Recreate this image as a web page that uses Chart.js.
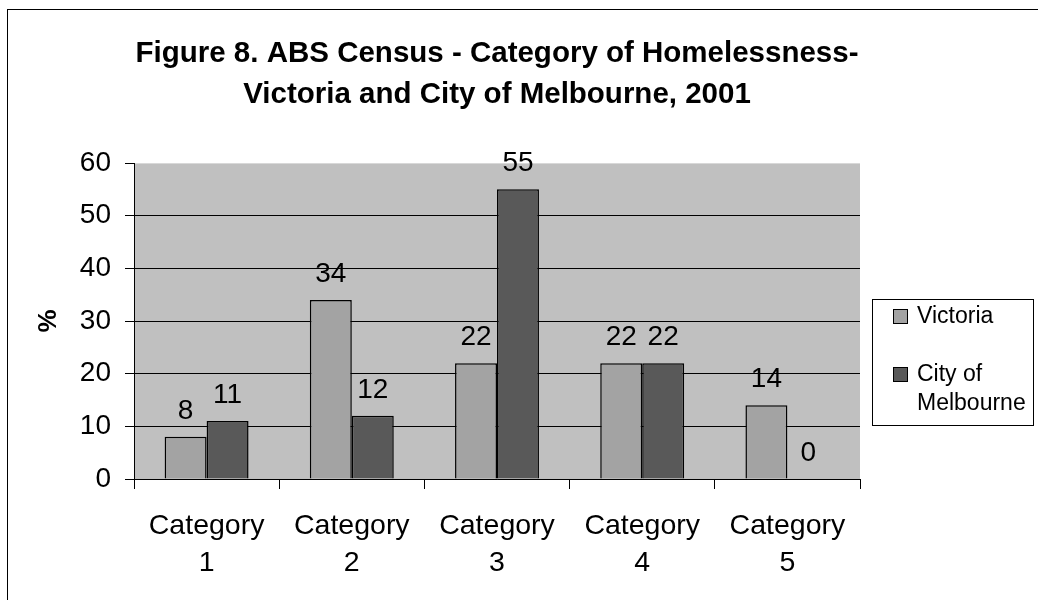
<!DOCTYPE html>
<html>
<head>
<meta charset="utf-8">
<script src="https://cdn.jsdelivr.net/npm/chart.js@4"></script>
<style>
  html, body { margin: 0; padding: 0; background: #ffffff; }
  canvas { display: block; }
</style>
</head>
<body>
<canvas id="c" width="1038" height="600"></canvas>
<script>
const categories = [['Category', '1'], ['Category', '2'], ['Category', '3'], ['Category', '4'], ['Category', '5']];
const victoria = [8, 34, 22, 22, 14];
const cityOfMelbourne = [11, 12, 55, 22, 0];
const seriesNames = ['Victoria', 'City of Melbourne'];
const legendLines = [['Victoria'], ['City of', 'Melbourne']];
const titleLines = ['Figure 8. ABS Census - Category of Homelessness-', 'Victoria and City of Melbourne, 2001'];
const yAxisTitle = '%';
const yMin = 0, yMax = 60, yStep = 10;

const FONT = "'Liberation Sans', Arial, sans-serif";
const colors = ['#a3a3a3', '#595959'];

const frame = {
  id: 'frame',
  beforeDraw(chart) {
    const ctx = chart.ctx, a = chart.chartArea;
    ctx.save();
    ctx.fillStyle = '#ffffff';
    ctx.fillRect(0, 0, chart.width, chart.height);
    ctx.strokeStyle = '#000000';
    ctx.lineWidth = 1;
    ctx.strokeRect(7.5, 9.5, chart.width + 20, chart.height + 20);
    ctx.fillStyle = '#c0c0c0';
    ctx.fillRect(a.left, a.top, a.right - a.left, a.bottom - a.top);
    ctx.strokeStyle = '#d8d8d8';
    ctx.beginPath();
    ctx.moveTo(a.left, a.top + 0.5);
    ctx.lineTo(a.right, a.top + 0.5);
    ctx.stroke();
    ctx.restore();
  },
  afterDatasetsDraw(chart) {
    const ctx = chart.ctx;
    ctx.save();
    ctx.fillStyle = '#000000';
    ctx.font = '28px ' + FONT;
    ctx.textAlign = 'center';
    ctx.textBaseline = 'alphabetic';
    chart.data.datasets.forEach((ds, di) => {
      chart.getDatasetMeta(di).data.forEach((bar, i) => {
        ctx.fillText(String(ds.data[i]), bar.x, bar.y - 18);
      });
    });
    ctx.restore();
  },
  afterDraw(chart) {
    const ctx = chart.ctx;
    ctx.save();
    // legend box
    ctx.strokeStyle = '#000000';
    ctx.lineWidth = 1;
    ctx.strokeRect(872.5, 299.5, 161, 126);
    ctx.font = '23px ' + FONT;
    ctx.textAlign = 'left';
    ctx.textBaseline = 'alphabetic';
    const itemTops = [309, 367];
    const baselines = [323, 381];
    legendLines.forEach((lines, i) => {
      ctx.fillStyle = colors[i];
      ctx.fillRect(893, itemTops[i], 14, 14);
      ctx.strokeStyle = '#000000';
      ctx.lineWidth = 1;
      ctx.strokeRect(893.5, itemTops[i] + 0.5, 14, 14);
      ctx.fillStyle = '#000000';
      lines.forEach((t, j) => ctx.fillText(t, 917, baselines[i] + j * 29));
    });
    ctx.restore();
  }
};

new Chart(document.getElementById('c'), {
  type: 'bar',
  data: {
    labels: categories,
    datasets: [
      { label: seriesNames[0], data: victoria, backgroundColor: colors[0], borderColor: '#000000', borderWidth: 1.5 },
      { label: seriesNames[1], data: cityOfMelbourne, backgroundColor: colors[1], borderColor: '#000000', borderWidth: 1.5 }
    ]
  },
  options: {
    responsive: false,
    animation: false,
    events: [],
    layout: { padding: { left: 0, right: 178, top: 0, bottom: 0 } },
    datasets: { bar: { categoryPercentage: 0.578, barPercentage: 1.0 } },
    plugins: {
      legend: { display: false },
      tooltip: { enabled: false },
      title: {
        display: true,
        fullSize: false,
        text: titleLines,
        color: '#000000',
        font: { family: FONT, size: 29.5, weight: 'bold', lineHeight: 1.39 },
        padding: { top: 33, bottom: 48 }
      }
    },
    scales: {
      x: {
        offset: true,
        grid: { display: true, offset: true, drawOnChartArea: false, drawTicks: true, tickLength: 10, color: '#000000', lineWidth: 1 },
        border: { display: true, color: '#000000', width: 1 },
        ticks: { color: '#000000', font: { family: FONT, size: 28.5, lineHeight: 1.32 }, padding: 18, maxRotation: 0, autoSkip: false },
        afterFit(scale) { scale.height = 121; }
      },
      y: {
        min: yMin, max: yMax,
        grid: {
          color: (c) => (c.tick && c.tick.value === yMax) ? 'rgba(0,0,0,0)' : '#000000',
          tickColor: '#000000', lineWidth: 1, drawTicks: true, tickLength: 9
        },
        border: { display: true, color: '#000000', width: 1 },
        ticks: { stepSize: yStep, color: '#000000', font: { family: FONT, size: 28 }, padding: 14 },
        title: { display: true, text: yAxisTitle, color: '#000000', font: { family: FONT, size: 26, weight: 'bold', lineHeight: 1.2 }, padding: 33 },
        afterFit(scale) { scale.width = 134; }
      }
    }
  },
  plugins: [frame]
});
</script>
</body>
</html>
